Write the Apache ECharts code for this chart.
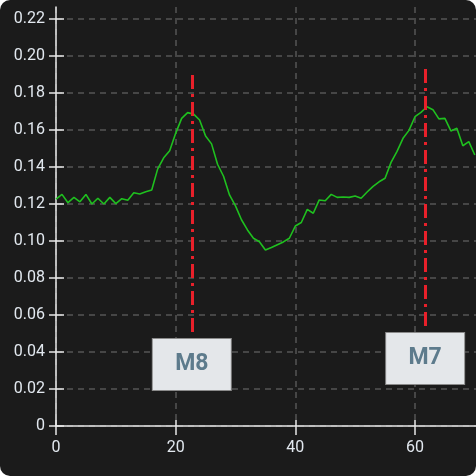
<!DOCTYPE html>
<html>
<head>
<meta charset="utf-8">
<script src="https://cdn.jsdelivr.net/npm/echarts@6/dist/echarts.min.js"></script>
<style>
	html, body { margin: 0; padding: 0; background: #ffffff; }
	#chart { width: 476px; height: 476px; background: #1b1b1b; border-radius: 10px; overflow: hidden; }
</style>
</head>
<body>
<div id="chart"></div>
<script>
// 曲线数据
const xs = [0, 1, 2, 3, 4, 5, 6, 7, 8, 9, 10, 11, 12, 13, 14, 15, 16, 17, 18, 19, 20,
	21, 22, 23, 24, 25, 26, 27, 28, 29, 30, 31, 32, 33, 34, 35, 36, 37, 38, 39, 40,
	41, 42, 43, 44, 45, 46, 47, 48, 49, 50, 51, 52, 53, 54, 55, 56, 57, 58, 59, 60,
	61, 62, 63, 64, 65, 66, 67, 68, 69, 70];
const ys = [0.1227, 0.1252, 0.1207, 0.1236, 0.1212, 0.1252, 0.1200, 0.1231, 0.1200, 0.1236, 0.1202,
	0.1229, 0.1220, 0.1261, 0.1254, 0.1266, 0.1276, 0.1390, 0.1450, 0.1488, 0.1582,
	0.1663, 0.1694, 0.1686, 0.1654, 0.1568, 0.1525, 0.1415, 0.1350, 0.1249, 0.1190,
	0.1115, 0.1060, 0.1015, 0.0996, 0.0951, 0.0965, 0.0980, 0.0995, 0.1015, 0.1081,
	0.1100, 0.1171, 0.1150, 0.1222, 0.1218, 0.1252, 0.1236, 0.1238, 0.1236, 0.1243,
	0.1231, 0.1265, 0.1295, 0.1320, 0.1339, 0.1425, 0.1485, 0.1555, 0.1598, 0.1672,
	0.1695, 0.1726, 0.1710, 0.1660, 0.1663, 0.1595, 0.1609, 0.1515, 0.1537, 0.1465];

// 标记线 M8 / M7
const markerNames = ["M8", "M7"];
const markerX = [22.7, 61.7];
const markerY0 = [0.0508, 0.054];
const markerY1 = [0.1924, 0.1957];

// 刻度
const xTicks = [0, 20, 40, 60];
const yTicks = [0, 0.02, 0.04, 0.06, 0.08, 0.1, 0.12, 0.14, 0.16, 0.18, 0.2, 0.22];
const xMax = 70.2;
const yMax = 0.2265;

const labelColor = "#e2e8ef";
const gridLine = { show: true, lineStyle: { color: "#555555", width: 1.5, type: [6, 5] } };

const myChart = echarts.init(document.querySelector("#chart"));

myChart.setOption({
	animation: false,
	grid: { left: 56, right: 0, top: 7, bottom: 50 },
	xAxis: [
		{
			type: "value",
			min: 0,
			max: xMax,
			axisLine: { lineStyle: { color: "#e8e8e8", width: 1.5 } },
			axisTick: { length: 9, customValues: xTicks, lineStyle: { color: "#e8e8e8", width: 1.5 } },
			axisLabel: {
				customValues: xTicks,
				margin: 14,
				color: labelColor,
				fontSize: 16,
				fontFamily: "Roboto",
			},
			splitLine: gridLine,
		},
		{
			type: "value",
			min: 0,
			max: xMax,
			position: "bottom",
			axisLine: { show: false },
			axisTick: { inside: true, length: 6, customValues: xTicks, lineStyle: { color: "#e8e8e8", width: 1.5 } },
			axisLabel: { show: false },
			splitLine: { show: false },
		},
	],
	yAxis: [
		{
			type: "value",
			min: 0,
			max: yMax,
			axisLine: { show: true, lineStyle: { color: "#e8e8e8", width: 1.5 } },
			axisTick: { show: true, length: 7, customValues: yTicks, lineStyle: { color: "#e8e8e8", width: 1.5 } },
			axisLabel: {
				customValues: yTicks,
				margin: 11,
				color: labelColor,
				fontSize: 16,
				fontFamily: "Roboto",
				formatter: (v) => (v === 0 ? "0" : v.toFixed(2)),
			},
			splitLine: gridLine,
		},
		{
			type: "value",
			min: 0,
			max: yMax,
			position: "left",
			axisLine: { show: false },
			axisTick: { show: true, inside: true, length: 8, customValues: yTicks, lineStyle: { color: "#e8e8e8", width: 1.5 } },
			axisLabel: { show: false },
			splitLine: { show: false },
		},
	],
	series: [
		{
			type: "line",
			data: xs.map((x, i) => [x, ys[i]]),
			showSymbol: false,
			lineStyle: { color: "#1fc01f", width: 1.6 },
			markLine: {
				silent: true,
				symbol: "none",
				lineStyle: { color: "#e8202a", width: 3, type: [14, 5, 3, 5] },
				label: {
					show: true,
					position: "start",
					distance: 7,
					formatter: "{b}",
					color: "#5d7b8c",
					fontSize: 23,
					fontWeight: "bold",
					fontFamily: "Roboto",
					backgroundColor: "#e4e7ea",
					borderColor: "#8a8a8a",
					borderWidth: 1,
					width: 78,
					height: 51,
					lineHeight: 51,
					align: "center",
				},
				data: markerNames.map((name, i) => [
					{ name, coord: [markerX[i], markerY0[i]] },
					{ coord: [markerX[i], markerY1[i]] },
				]),
			},
		},
	],
});
</script>
</body>
</html>
